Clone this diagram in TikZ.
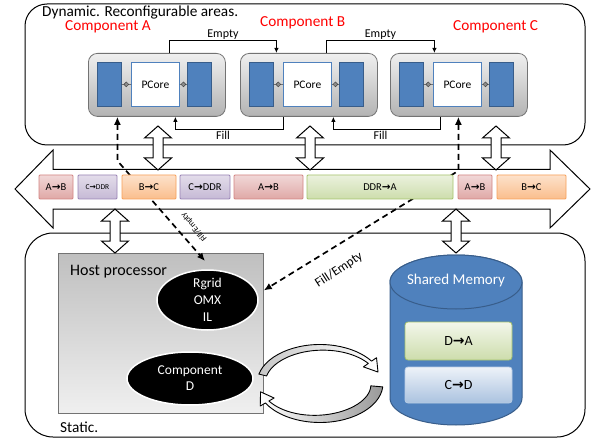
\documentclass[tikz,border=0pt]{standalone}
\usepackage{fontspec}
\setmainfont{Carlito}
\newfontfamily\arrowfont{DejaVu Sans}
\usepackage{xcolor}
\usepackage{tikz}
\usetikzlibrary{arrows.meta,positioning,shapes.geometric}

\newcommand{\rarr}{{\arrowfont\bfseries\char"2192}}

\definecolor{offblue}{HTML}{4F81BD}
\definecolor{offblueline}{HTML}{385D8A}
\definecolor{offred}{HTML}{C0504D}
\definecolor{offviolet}{HTML}{8064A2}
\definecolor{offorange}{HTML}{F79646}
\definecolor{offgreen}{HTML}{9BBB59}

\begin{document}
\begin{tikzpicture}[
  x=1pt, y=-1pt,
  font=\fontsize{12}{14}\selectfont,
  % ---- regions -----------------------------------------------------------
  region/.style={draw=black, line width=1pt, fill=white},
  regiontitle/.style={anchor=base west, inner sep=0pt, font=\fontsize{15.3}{18}\selectfont},
  comptitle/.style={regiontitle, text=red},
  % ---- reconfigurable components -----------------------------------------
  compbox/.style={draw=black!55, line width=0.8pt, top color=black!6, bottom color=black!30,
    rounded corners=9pt, minimum width=137pt, minimum height=63pt, inner sep=0pt},
  blockbar/.style={draw=offblueline, line width=0.7pt, fill=offblue,
    minimum width=24pt, minimum height=44pt, inner sep=0pt},
  pcore/.style={draw=offblue, line width=0.8pt, fill=white, minimum width=48pt,
    minimum height=44pt, inner sep=0pt, font=\fontsize{11.5}{13}\selectfont},
  port/.style={draw=black!75, line width=0.6pt},
  portdot/.style={diamond, draw=black!75, fill=black!45, line width=0.5pt,
    minimum size=5pt, inner sep=0pt},
  flow/.style={draw=black, line width=1pt, -{Latex[length=5pt,width=4.5pt]}},
  flowlabel/.style={inner sep=1pt, font=\fontsize{12}{14}\selectfont},
  % ---- bus ---------------------------------------------------------------
  bus/.style={draw=black, line width=1pt, fill=white, line join=miter},
  hollow/.style={draw=black, line width=1pt, fill=white},
  busbox/.style={line width=0.8pt, rounded corners=1pt, minimum height=24pt,
    inner sep=0pt, font=\fontsize{10.5}{12}\selectfont},
  redbox/.style={busbox, draw=offred!70, top color=offred!22, bottom color=offred!50},
  violetbox/.style={busbox, draw=offviolet!80, top color=offviolet!22, bottom color=offviolet!45},
  orangebox/.style={busbox, draw=offorange!90, top color=offorange!28, bottom color=offorange!62},
  greenbox/.style={busbox, draw=offgreen!90, top color=offgreen!20, bottom color=offgreen!50},
  fillempty/.style={draw=black, line width=1.7pt, dash pattern=on 6pt off 4pt,
    {Latex[length=8pt,width=7pt]}-{Latex[length=8pt,width=7pt]}},
  % ---- static part -------------------------------------------------------
  hostbox/.style={draw=black!55, line width=0.8pt, top color=black!25, bottom color=black!6,
    minimum width=205pt, minimum height=160pt, inner sep=0pt},
  swnode/.style={ellipse, draw=white, line width=1.5pt, fill=black, inner sep=0pt},
  swtext/.style={align=center, text=white, inner sep=0pt, font=\fontsize{13.5}{17}\selectfont},
  memcyl/.style={draw=offblueline, line width=1pt, fill=offblue},
  memtext/.style={text=white, font=\fontsize{15}{18}\selectfont},
  membox/.style={line width=0.8pt, rounded corners=3pt, minimum width=107pt,
    inner sep=0pt, font=\fontsize{14}{16}\selectfont},
  swaparrow/.style={draw=black, line width=0.9pt, line join=round},
]

\useasboundingbox (0,0) rectangle (592,441);

% ---- regions --------------------------------------------------------------
\draw[region, rounded corners=22pt] (25,4) rectangle (585,145);
\draw[region, rounded corners=28pt] (25,233) rectangle (585,437);
\node[regiontitle] (dyn) at (42,17) {Dynamic. Reconfigurable areas.};
\node[regiontitle] (stat) at (60,432) {Static.};

% ---- components A, B, C ---------------------------------------------------
\foreach \nm/\lx in {a/88, b/240, c/390} {
  \node[compbox, anchor=north west] (\nm-box) at (\lx,53) {};
  \node[blockbar, anchor=north west] (\nm-in) at (\lx+9,62) {};
  \node[pcore, anchor=north west] (\nm-core) at (\lx+43,62) {PCore};
  \node[blockbar, anchor=north west] (\nm-out) at (\lx+99,62) {};
  \draw[port] (\nm-in) -- (\nm-core) node[portdot, midway] {};
  \draw[port] (\nm-core) -- (\nm-out) node[portdot, midway] {};
}
\node[comptitle] (a-title) at (65,31) {Component A};
\node[comptitle] (b-title) at (260,27) {Component B};
\node[comptitle] (c-title) at (453,31) {Component C};

% empty goes forward over the top, fill comes back underneath
\draw[flow] ([xshift=12.5pt]a-box.north) -- ++(0,-12.5)
  -| node[pos=0.25, above, flowlabel] {Empty} ([xshift=-32.5pt]b-box.north);
\draw[flow] ([xshift=17.5pt]b-box.north) -- ++(0,-12.5)
  -| node[pos=0.25, above, flowlabel] {Empty} ([xshift=-24.5pt]c-box.north);
\draw[flow] ([xshift=-25.5pt]b-box.south) -- ++(0,12.5)
  -| node[pos=0.28, below, flowlabel] {Fill} ([xshift=18.5pt]a-box.south);
\draw[flow] ([xshift=-18.5pt]c-box.south) -- ++(0,12.5)
  -| node[pos=0.28, below, flowlabel] {Fill} ([xshift=24.5pt]b-box.south);

% ---- bus --------------------------------------------------------------------
\draw[bus] (15,189) -- (53,150) -- (53,169.5) -- (550,169.5) -- (550,150) -- (590,189)
  -- (550,228) -- (550,209) -- (53,209) -- (53,228) -- cycle;

% ---- static part --------------------------------------------------------------
\node[hostbox, anchor=north west] (host) at (58,253) {};
\node[regiontitle, font=\fontsize{16}{18}\selectfont] (host-title) at (70,275) {Host processor};
\node[swnode, minimum width=101pt, minimum height=60pt] (omx) at (207.5,300) {};
\node[swtext] at (omx.center) {Rgrid\\OMX\\IL};
\node[swnode, minimum width=126pt, minimum height=53pt] (comp-d) at (190,378.5) {};
\node[swtext, font=\fontsize{13.5}{16}\selectfont] at (comp-d.center) {Component\\D};

\coordinate (a-drop) at (205,261);

% dashed fill/empty paths run behind the bus boxes
\draw[fillempty] ([xshift=-39.5pt]a-box.south) -- ++(0,44) -- (a-drop);
\draw[fillempty] ([xshift=-0.5pt]c-box.south) -- ++(0,54) -- ([yshift=43pt]host.east);
\node[rotate=130, inner sep=0pt, font=\fontsize{8.5}{10}\selectfont] (fe-a) at (194,227) {Fill/Empty};
\node[rotate=33, inner sep=0pt, font=\fontsize{13}{15}\selectfont] (fe-c) at (339,270) {Fill/Empty};

% ---- bus transfers --------------------------------------------------------------
\node[redbox, minimum width=34pt] (bus1) at (56,187) {A\rarr B};
\node[violetbox, minimum width=39pt, font=\fontsize{7.5}{9}\selectfont] (bus2) at (97.5,187) {C\rarr DDR};
\node[orangebox, minimum width=54pt] (bus3) at (149,187) {B\rarr C};
\node[violetbox, minimum width=50pt] (bus4) at (205,187) {C\rarr DDR};
\node[redbox, minimum width=69pt] (bus5) at (268.5,187) {A\rarr B};
\node[greenbox, minimum width=146pt] (bus6) at (380,187) {DDR\rarr A};
\node[redbox, minimum width=34pt] (bus7) at (475,187) {A\rarr B};
\node[orangebox, minimum width=69pt] (bus8) at (531.5,187) {B\rarr C};

% ---- region <-> bus links ------------------------------------------------------
\foreach \xx/\ya/\yb in {158/126/170, 310/126/170, 496/126/170, 115/209/253, 456/209/253}
  \draw[hollow] (\xx,\ya) -- (\xx+13.5,\ya+12) -- (\xx+5,\ya+12) -- (\xx+5,\yb-12)
    -- (\xx+13.5,\yb-12) -- (\xx,\yb) -- (\xx-13.5,\yb-12) -- (\xx-5,\yb-12)
    -- (\xx-5,\ya+12) -- (\xx-13.5,\ya+12) -- cycle;

% ---- shared memory ------------------------------------------------------------
\draw[memcyl] (390,282) -- (390,398) arc[start angle=180, end angle=0, x radius=66, y radius=27]
  -- (522,282) arc[start angle=0, end angle=-180, x radius=66, y radius=27] -- cycle;
\draw[memcyl] (456,282) ellipse[x radius=66, y radius=27];
\node[memtext] (shmem) at (456,281) {Shared Memory};
\node[membox, draw=offgreen!90, top color=offgreen!12, bottom color=offgreen!50,
  minimum height=38pt] (mem-da) at (458.5,341) {D\rarr A};
\node[membox, draw=offblue!40, top color=offblue!10, bottom color=offblue!48,
  minimum height=36pt] (mem-cd) at (458.5,385) {C\rarr D};

% ---- host <-> memory swap (bands taper from tail to head) -----------------------
\begin{scope}[shift={(320,383.5)}]
\draw[swaparrow, left color=black!22, right color=white]
  (194:63 and 39) arc[start angle=194, end angle=325, x radius=63, y radius=39]
  -- (325:69 and 45) -- (342:61 and 37) -- (325:53 and 29)
  -- plot[variable=\t, domain=325:194, samples=30]
     ({(55+4*(\t-194)/131)*cos(\t)}, {(31+4*(\t-194)/131)*sin(\t)}) -- cycle;
\draw[swaparrow, left color=white, right color=black!40]
  (5:63 and 39) arc[start angle=5, end angle=150, x radius=63, y radius=39]
  -- (150:69 and 45) -- (167:61 and 37) -- (150:53 and 29)
  -- plot[variable=\t, domain=150:5, samples=30]
     ({(51+8*(\t-5)/145)*cos(\t)}, {(27+8*(\t-5)/145)*sin(\t)}) -- cycle;
\end{scope}

\end{tikzpicture}
\end{document}
